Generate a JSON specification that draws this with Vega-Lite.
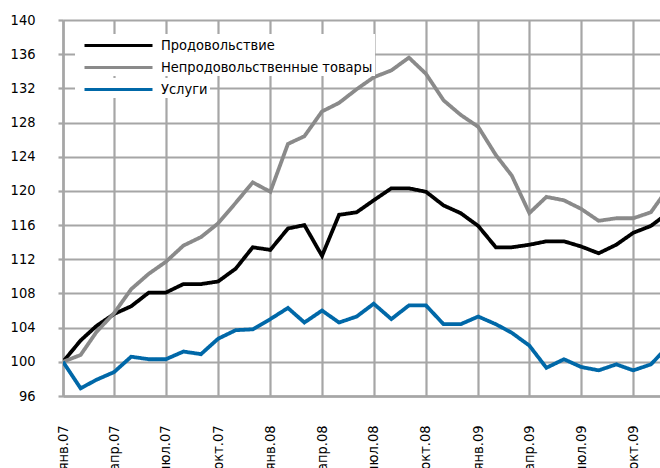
{
  "$schema": "https://vega.github.io/schema/vega-lite/v6.json",
  "width": 597,
  "height": 376,
  "autosize": {"type": "none"},
  "padding": {"left": 63, "top": 20, "right": 0, "bottom": 72},
  "background": "white",
  "config": {
    "view": {"stroke": null},
    "font": "DejaVu Sans Condensed, Liberation Sans, sans-serif",
    "axis": {
      "gridColor": "#a6a6a6",
      "gridWidth": 2.2,
      "gridOpacity": 1,
      "domainColor": "#a6a6a6",
      "domainWidth": 2.5,
      "tickColor": "#a6a6a6",
      "tickWidth": 2.2,
      "tickSize": 5,
      "labelColor": "#000000",
      "labelFont": "DejaVu Sans Condensed, Liberation Sans, sans-serif",
      "labelFontSize": 14.5,
      "title": null
    },
    "legend": {
      "title": null,
      "padding": 2,
      "fillColor": "#ffffff",
      "symbolType": "M-4.25,0H4.25",
      "symbolSize": 256,
      "symbolStrokeWidth": 3,
      "symbolOffset": 32,
      "labelOffset": 33,
      "labelFont": "DejaVu Sans Condensed, Liberation Sans, sans-serif",
      "labelFontSize": 14.5,
      "labelColor": "#000000",
      "labelLimit": 400,
      "rowPadding": 6
    }
  },
  "data": {
    "values": [
      {"date": "2007-01-01", "series": "Продовольствие", "value": 100.0},
      {"date": "2007-02-01", "series": "Продовольствие", "value": 102.5},
      {"date": "2007-03-01", "series": "Продовольствие", "value": 104.2},
      {"date": "2007-04-01", "series": "Продовольствие", "value": 105.6},
      {"date": "2007-05-01", "series": "Продовольствие", "value": 106.5},
      {"date": "2007-06-01", "series": "Продовольствие", "value": 108.1},
      {"date": "2007-07-01", "series": "Продовольствие", "value": 108.1},
      {"date": "2007-08-01", "series": "Продовольствие", "value": 109.1},
      {"date": "2007-09-01", "series": "Продовольствие", "value": 109.1},
      {"date": "2007-10-01", "series": "Продовольствие", "value": 109.4},
      {"date": "2007-11-01", "series": "Продовольствие", "value": 110.9},
      {"date": "2007-12-01", "series": "Продовольствие", "value": 113.4},
      {"date": "2008-01-01", "series": "Продовольствие", "value": 113.1},
      {"date": "2008-02-01", "series": "Продовольствие", "value": 115.6},
      {"date": "2008-03-01", "series": "Продовольствие", "value": 116.0},
      {"date": "2008-04-01", "series": "Продовольствие", "value": 112.4},
      {"date": "2008-05-01", "series": "Продовольствие", "value": 117.2},
      {"date": "2008-06-01", "series": "Продовольствие", "value": 117.5},
      {"date": "2008-07-01", "series": "Продовольствие", "value": 118.9},
      {"date": "2008-08-01", "series": "Продовольствие", "value": 120.3},
      {"date": "2008-09-01", "series": "Продовольствие", "value": 120.3},
      {"date": "2008-10-01", "series": "Продовольствие", "value": 119.9},
      {"date": "2008-11-01", "series": "Продовольствие", "value": 118.3},
      {"date": "2008-12-01", "series": "Продовольствие", "value": 117.4},
      {"date": "2009-01-01", "series": "Продовольствие", "value": 115.9},
      {"date": "2009-02-01", "series": "Продовольствие", "value": 113.4},
      {"date": "2009-03-01", "series": "Продовольствие", "value": 113.4},
      {"date": "2009-04-01", "series": "Продовольствие", "value": 113.7},
      {"date": "2009-05-01", "series": "Продовольствие", "value": 114.1},
      {"date": "2009-06-01", "series": "Продовольствие", "value": 114.1},
      {"date": "2009-07-01", "series": "Продовольствие", "value": 113.5},
      {"date": "2009-08-01", "series": "Продовольствие", "value": 112.7},
      {"date": "2009-09-01", "series": "Продовольствие", "value": 113.7},
      {"date": "2009-10-01", "series": "Продовольствие", "value": 115.1},
      {"date": "2009-11-01", "series": "Продовольствие", "value": 115.9},
      {"date": "2009-12-01", "series": "Продовольствие", "value": 117.4},
      {"date": "2007-01-01", "series": "Непродовольственные товары", "value": 100.0},
      {"date": "2007-02-01", "series": "Непродовольственные товары", "value": 100.8},
      {"date": "2007-03-01", "series": "Непродовольственные товары", "value": 103.5},
      {"date": "2007-04-01", "series": "Непродовольственные товары", "value": 105.7},
      {"date": "2007-05-01", "series": "Непродовольственные товары", "value": 108.5},
      {"date": "2007-06-01", "series": "Непродовольственные товары", "value": 110.3},
      {"date": "2007-07-01", "series": "Непродовольственные товары", "value": 111.7},
      {"date": "2007-08-01", "series": "Непродовольственные товары", "value": 113.6},
      {"date": "2007-09-01", "series": "Непродовольственные товары", "value": 114.6},
      {"date": "2007-10-01", "series": "Непродовольственные товары", "value": 116.2},
      {"date": "2007-11-01", "series": "Непродовольственные товары", "value": 118.6},
      {"date": "2007-12-01", "series": "Непродовольственные товары", "value": 121.0},
      {"date": "2008-01-01", "series": "Непродовольственные товары", "value": 119.9},
      {"date": "2008-02-01", "series": "Непродовольственные товары", "value": 125.5},
      {"date": "2008-03-01", "series": "Непродовольственные товары", "value": 126.4},
      {"date": "2008-04-01", "series": "Непродовольственные товары", "value": 129.3},
      {"date": "2008-05-01", "series": "Непродовольственные товары", "value": 130.3},
      {"date": "2008-06-01", "series": "Непродовольственные товары", "value": 131.9},
      {"date": "2008-07-01", "series": "Непродовольственные товары", "value": 133.3},
      {"date": "2008-08-01", "series": "Непродовольственные товары", "value": 134.1},
      {"date": "2008-09-01", "series": "Непродовольственные товары", "value": 135.6},
      {"date": "2008-10-01", "series": "Непродовольственные товары", "value": 133.7},
      {"date": "2008-11-01", "series": "Непродовольственные товары", "value": 130.6},
      {"date": "2008-12-01", "series": "Непродовольственные товары", "value": 128.9},
      {"date": "2009-01-01", "series": "Непродовольственные товары", "value": 127.5},
      {"date": "2009-02-01", "series": "Непродовольственные товары", "value": 124.2},
      {"date": "2009-03-01", "series": "Непродовольственные товары", "value": 121.8},
      {"date": "2009-04-01", "series": "Непродовольственные товары", "value": 117.4},
      {"date": "2009-05-01", "series": "Непродовольственные товары", "value": 119.3},
      {"date": "2009-06-01", "series": "Непродовольственные товары", "value": 118.9},
      {"date": "2009-07-01", "series": "Непродовольственные товары", "value": 117.9},
      {"date": "2009-08-01", "series": "Непродовольственные товары", "value": 116.5},
      {"date": "2009-09-01", "series": "Непродовольственные товары", "value": 116.8},
      {"date": "2009-10-01", "series": "Непродовольственные товары", "value": 116.8},
      {"date": "2009-11-01", "series": "Непродовольственные товары", "value": 117.5},
      {"date": "2009-12-01", "series": "Непродовольственные товары", "value": 120.3},
      {"date": "2007-01-01", "series": "Услуги", "value": 100.0},
      {"date": "2007-02-01", "series": "Услуги", "value": 96.9},
      {"date": "2007-03-01", "series": "Услуги", "value": 97.9},
      {"date": "2007-04-01", "series": "Услуги", "value": 98.8},
      {"date": "2007-05-01", "series": "Услуги", "value": 100.6},
      {"date": "2007-06-01", "series": "Услуги", "value": 100.3},
      {"date": "2007-07-01", "series": "Услуги", "value": 100.3},
      {"date": "2007-08-01", "series": "Услуги", "value": 101.2},
      {"date": "2007-09-01", "series": "Услуги", "value": 100.9},
      {"date": "2007-10-01", "series": "Услуги", "value": 102.7},
      {"date": "2007-11-01", "series": "Услуги", "value": 103.7},
      {"date": "2007-12-01", "series": "Услуги", "value": 103.8},
      {"date": "2008-01-01", "series": "Услуги", "value": 105.0},
      {"date": "2008-02-01", "series": "Услуги", "value": 106.3},
      {"date": "2008-03-01", "series": "Услуги", "value": 104.6},
      {"date": "2008-04-01", "series": "Услуги", "value": 106.0},
      {"date": "2008-05-01", "series": "Услуги", "value": 104.6},
      {"date": "2008-06-01", "series": "Услуги", "value": 105.3},
      {"date": "2008-07-01", "series": "Услуги", "value": 106.8},
      {"date": "2008-08-01", "series": "Услуги", "value": 105.0},
      {"date": "2008-09-01", "series": "Услуги", "value": 106.6},
      {"date": "2008-10-01", "series": "Услуги", "value": 106.6},
      {"date": "2008-11-01", "series": "Услуги", "value": 104.4},
      {"date": "2008-12-01", "series": "Услуги", "value": 104.4},
      {"date": "2009-01-01", "series": "Услуги", "value": 105.3},
      {"date": "2009-02-01", "series": "Услуги", "value": 104.4},
      {"date": "2009-03-01", "series": "Услуги", "value": 103.4},
      {"date": "2009-04-01", "series": "Услуги", "value": 101.9},
      {"date": "2009-05-01", "series": "Услуги", "value": 99.3},
      {"date": "2009-06-01", "series": "Услуги", "value": 100.3},
      {"date": "2009-07-01", "series": "Услуги", "value": 99.4},
      {"date": "2009-08-01", "series": "Услуги", "value": 99.0},
      {"date": "2009-09-01", "series": "Услуги", "value": 99.7},
      {"date": "2009-10-01", "series": "Услуги", "value": 99.0},
      {"date": "2009-11-01", "series": "Услуги", "value": 99.7},
      {"date": "2009-12-01", "series": "Услуги", "value": 101.8}
    ]
  },
  "mark": {"type": "line", "strokeWidth": 3.8, "clip": true},
  "encoding": {
    "x": {
      "field": "date",
      "type": "temporal",
      "scale": {
        "type": "utc",
        "domain": [
          {"year": 2007, "month": 1, "date": 1, "utc": true},
          {"year": 2009, "month": 11, "date": 17, "utc": true}
        ]
      },
      "axis": {
        "grid": true,
        "ticks": false,
        "values": [
          {"year": 2007, "month": 1, "date": 1, "utc": true},
          {"year": 2007, "month": 4, "date": 1, "utc": true},
          {"year": 2007, "month": 7, "date": 1, "utc": true},
          {"year": 2007, "month": 10, "date": 1, "utc": true},
          {"year": 2008, "month": 1, "date": 1, "utc": true},
          {"year": 2008, "month": 4, "date": 1, "utc": true},
          {"year": 2008, "month": 7, "date": 1, "utc": true},
          {"year": 2008, "month": 10, "date": 1, "utc": true},
          {"year": 2009, "month": 1, "date": 1, "utc": true},
          {"year": 2009, "month": 4, "date": 1, "utc": true},
          {"year": 2009, "month": 7, "date": 1, "utc": true},
          {"year": 2009, "month": 10, "date": 1, "utc": true}
        ],
        "labelExpr": "['янв','фев','мар','апр','май','июн','июл','авг','сен','окт','ноя','дек'][utcmonth(datum.value)] + '.' + utcFormat(datum.value, '%y')",
        "labelAngle": -90,
        "labelPadding": 29,
        "labelOverlap": false,
        "labelFlush": false,
        "labelBound": false
      }
    },
    "y": {
      "field": "value",
      "type": "quantitative",
      "scale": {"domain": [96, 140], "nice": false, "zero": false},
      "axis": {
        "grid": true,
        "values": [96, 100, 104, 108, 112, 116, 120, 124, 128, 132, 136, 140],
        "labelPadding": 23,
        "labelFlush": false,
        "labelOverlap": false
      }
    },
    "color": {
      "field": "series",
      "type": "nominal",
      "scale": {
        "domain": ["Продовольствие", "Непродовольственные товары", "Услуги"],
        "range": ["#000000", "#8a8a8a", "#0068a8"]
      },
      "legend": {
        "orient": "none",
        "legendX": 12,
        "legendY": 14,
        "values": ["Продовольствие", "Непродовольственные товары"]
      }
    },
    "strokeDash": {
      "field": "series",
      "type": "nominal",
      "scale": {
        "domain": ["Услуги", "Продовольствие", "Непродовольственные товары"],
        "range": [[1, 0], [1, 0], [1, 0]]
      },
      "legend": {
        "orient": "none",
        "legendX": 12,
        "legendY": 58,
        "values": ["Услуги"],
        "symbolStrokeColor": "#0068a8"
      }
    }
  }
}
